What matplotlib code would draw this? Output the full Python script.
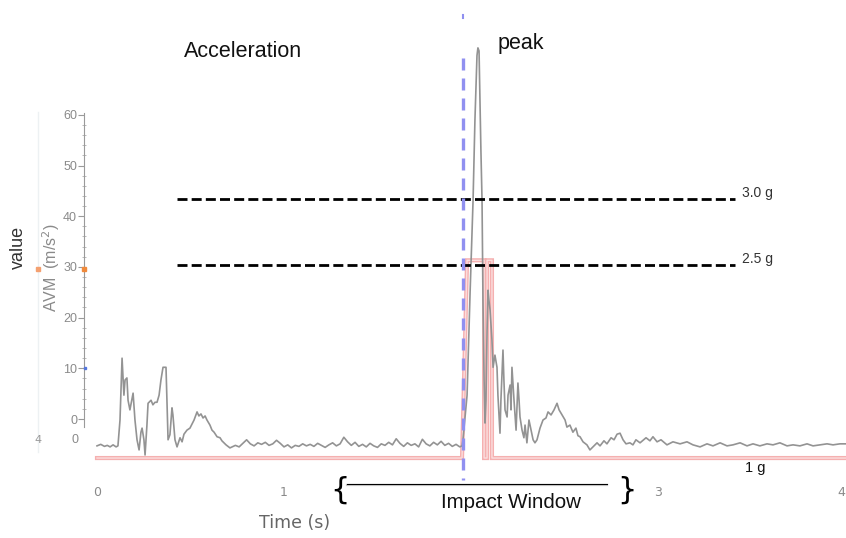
import numpy as np
import matplotlib
matplotlib.use('Agg')
import matplotlib.pyplot as plt
from matplotlib.lines import Line2D

# ── data: AVM trace (m/s^2) ──────────────────────────────────────────────────
time_s = [
    0.000, 0.020, 0.040, 0.055, 0.070, 0.086, 0.102, 0.112, 0.123, 0.134,
    0.144, 0.150, 0.160, 0.166, 0.176, 0.193, 0.203, 0.214, 0.225, 0.235,
    0.241, 0.251, 0.257, 0.267, 0.273, 0.289, 0.299, 0.310, 0.321, 0.332,
    0.342, 0.353, 0.369, 0.374, 0.380, 0.390, 0.401, 0.406, 0.417, 0.428,
    0.444, 0.455, 0.465, 0.481, 0.497, 0.508, 0.519, 0.535, 0.545, 0.556,
    0.567, 0.578, 0.588, 0.604, 0.615, 0.626, 0.642, 0.658, 0.668, 0.690,
    0.711,
    # quiet stretch
    0.74, 0.76, 0.78, 0.80, 0.82, 0.84, 0.86, 0.88, 0.90, 0.92,
    0.94, 0.96, 0.98, 1.00, 1.02, 1.04, 1.06, 1.08, 1.10, 1.12,
    1.14, 1.16, 1.18, 1.20, 1.22, 1.24, 1.26, 1.28, 1.30, 1.32,
    1.34, 1.36, 1.38, 1.40, 1.42, 1.44, 1.46, 1.48, 1.50, 1.52,
    1.54, 1.56, 1.58, 1.60, 1.62, 1.64, 1.66, 1.68, 1.70, 1.72,
    1.74, 1.76, 1.78, 1.80, 1.82, 1.84, 1.86, 1.88, 1.90, 1.92,
    1.94,
    # impact
    1.952, 1.957, 1.968, 1.979, 1.995, 2.011, 2.021, 2.032, 2.037, 2.043,
    2.048, 2.053, 2.059, 2.064, 2.070, 2.075, 2.080, 2.086, 2.091, 2.096,
    2.102, 2.112, 2.118, 2.128, 2.139, 2.144, 2.155, 2.160, 2.171, 2.176,
    2.182, 2.193, 2.198, 2.209, 2.214, 2.219, 2.230, 2.241, 2.251, 2.257,
    2.262, 2.273, 2.283, 2.289, 2.299, 2.310, 2.321, 2.332, 2.342, 2.353,
    2.369, 2.385, 2.401, 2.412, 2.428, 2.444, 2.460, 2.471, 2.487, 2.503,
    2.513, 2.529, 2.545, 2.561, 2.572, 2.583, 2.599, 2.620, 2.636, 2.652,
    2.674, 2.690, 2.711, 2.727, 2.749, 2.765, 2.781, 2.797, 2.813, 2.829,
    2.850, 2.866, 2.882, 2.904,
    # tail
    2.936, 2.957, 2.973, 2.995, 3.016, 3.048, 3.080, 3.118, 3.155, 3.187,
    3.225, 3.262, 3.294, 3.332, 3.369, 3.401, 3.439, 3.476, 3.508, 3.545,
    3.583, 3.615, 3.652, 3.690, 3.722, 3.759, 3.797, 3.829, 3.866, 3.904,
    3.936, 3.973, 4.005,
]
avm = [
    -5.3, -5.0, -5.4, -5.2, -5.5, -5.1, -5.5, -5.3, -0.2, 12.0,
    4.7, 7.7, 8.1, 3.7, 1.8, 5.1, -0.2, -4.1, -6.1, -2.6,
    -1.8, -4.1, -7.1, -1.2, 3.1, 3.7, 2.8, 3.3, 3.3, 4.7,
    7.7, 10.2, 10.2, 3.7, -4.1, -3.1, 2.2, 0.8, -4.1, -5.5,
    -3.7, -4.5, -3.0, -2.2, -1.8, -1.0, -0.2, 1.4, 0.6, 1.0,
    0.2, 0.6, -0.2, -1.2, -2.2, -2.6, -3.5, -3.7, -4.3, -5.1,
    -5.7,
    -5.2, -5.5, -4.8, -4.1, -4.9, -5.3, -4.7, -5.0, -4.6, -5.2,
    -4.9, -4.2, -4.8, -5.5, -5.1, -5.7, -5.2, -5.4, -4.9, -5.3,
    -5.0, -5.4, -4.8, -5.2, -5.6, -5.1, -4.7, -5.3, -4.9, -3.6,
    -4.5, -5.2, -4.6, -5.4, -5.0, -5.5, -4.8, -5.3, -5.6, -4.9,
    -5.2, -4.6, -5.1, -3.9, -4.8, -5.4, -4.7, -5.2, -4.9, -5.5,
    -4.0, -4.9, -5.3, -4.6, -5.1, -4.4, -5.2, -4.8, -5.4, -5.0,
    -5.5,
    -5.3, -4.1, 0.4, 4.7, 24.8, 43.1, 58.9, 71.7, 73.2, 72.6,
    62.8, 53.0, 43.1, 23.4, 7.7, -0.8, 3.7, 17.5, 25.4, 23.4,
    21.5, 15.6, 10.2, 12.6, 10.2, 4.7, -2.8, 3.7, 13.6, 7.7,
    1.8, 0.4, 4.7, 6.7, 1.8, 10.2, 3.7, -2.2, 7.1, 3.7,
    0.4, -2.2, -3.7, -1.2, -4.7, -0.2, -2.2, -4.1, -4.7, -4.1,
    -1.8, -0.2, 0.2, 1.4, 0.8, 1.8, 3.1, 1.8, 0.8, -0.2,
    -1.6, -1.2, -2.6, -1.8, -3.3, -3.5, -4.5, -5.1, -6.1, -5.5,
    -4.7, -5.3, -4.3, -4.9, -3.7, -4.1, -3.0, -2.8, -4.1, -4.9,
    -4.7, -5.1, -4.1, -4.7,
    -3.7, -4.3, -3.5, -4.5, -4.1, -5.1, -4.5, -4.9, -4.5, -5.1,
    -5.5, -4.9, -5.3, -4.7, -5.3, -5.1, -4.7, -5.3, -4.9, -5.3,
    -4.9, -5.1, -4.7, -5.3, -5.1, -5.3, -4.9, -5.3, -5.1, -4.9,
    -5.1, -4.9, -4.9,
]

# impact-window flag (pink step trace)
window_t = [0.0, 1.952, 1.979, 2.070, 2.070, 2.086, 2.086, 2.112, 2.112, 4.005]
window_v = [-7.7, -7.7, 31.3, 31.3, -7.7, -7.7, 31.3, 31.3, -7.7, -7.7]

# thresholds
thr_values = [43.3, 30.3]
thr_labels = ['3.0 g', '2.5 g']
thr_span = [0.428, 3.412]

impact_start = 1.957
x_ticks = [0, 1, 3, 4]
y_ticks = [0, 10, 20, 30, 40, 50, 60]

# ── figure ────────────────────────────────────────────────────────────────────
W, H = 846, 538
fig = plt.figure(figsize=(W / 100, H / 100), dpi=100)
ax = fig.add_axes([0, (H - 482) / H, 1, 482 / H])
ax.set_xlim(-97 / 187, (W - 97) / 187)
ax.set_ylim(-63 / 5.07, 419 / 5.07)

gray_txt = '#8a8a8a'
narrow = ['Liberation Sans Narrow', 'Liberation Sans']

# signal + window
ax.plot(window_t, window_v, color='#f5b0b0', lw=3.0, solid_joinstyle='miter', zorder=2)
ax.plot(window_t, window_v, color='#fbdede', lw=1.0, zorder=2)
ax.plot(time_s, avm, color='#939393', lw=1.2, zorder=3)

# threshold lines
for v, lab in zip(thr_values, thr_labels):
    ax.plot(thr_span, [v, v], color='black', lw=2.0, dashes=(3.6, 1.5), zorder=4)
    ax.text(thr_span[1] + 0.035, v + 1.3, lab, fontsize=10, color='#333333',
            family=narrow, va='center', ha='left')

# impact start marker
ax.plot([impact_start, impact_start], [71.3, -12.0], color='#9090f0', lw=2.4,
        dashes=(3.6, 2.4), zorder=5)
ax.plot([impact_start, impact_start], [79.6, 79.0], color='#9090f0', lw=1.5, zorder=5)

# y axis
for s in ['top', 'right', 'bottom']:
    ax.spines[s].set_visible(False)
ax.spines['left'].set_position(('data', -13 / 187))
ax.spines['left'].set_bounds(-1.6, 60.4)
ax.spines['left'].set_color('#9a9a9a')
ax.set_yticks(y_ticks)
ax.set_yticks(np.arange(0, 61, 2), minor=True)
ax.tick_params(axis='y', which='major', length=4, width=0.8, color='#9a9a9a', pad=1,
               labelsize=9, labelcolor=gray_txt)
ax.tick_params(axis='y', which='minor', length=2.5, width=0.6, color='#b0b0b0', direction='inout')
for lbl in ax.get_yticklabels():
    lbl.set_family(narrow)
ax.text(-13 / 187 - 0.03, -4.1, '0', fontsize=9, color=gray_txt, ha='right', va='center',
        family=narrow)
ax.plot([-13 / 187], [29.6], marker='s', ms=2.5, color='#f08a3c', clip_on=False, zorder=6)
ax.plot([-13 / 187 + 0.005], [10], marker='s', ms=1.5, color='#5577dd', clip_on=False, zorder=6)

# x axis
ax.set_xticks(x_ticks)
ax.set_xticklabels([str(x) for x in x_ticks])
ax.tick_params(axis='x', length=0, pad=3, labelsize=9, labelcolor=gray_txt)
ax.get_xticklabels()[-1].set_horizontalalignment('right')

# ghost axis on the far left
gx = (38 - 97) / 187
ax.plot([gx, gx], [60.5, -6.5], color='#edf1f3', lw=1.0, zorder=1)
ax.plot([gx], [29.6], marker='s', ms=2.5, color='#f4a070', zorder=2)
ax.text(gx, -4.1, '4', fontsize=8, color='#999999', ha='center', va='center')

# labels and notes
ax.text((243 - 97) / 187, 72.4, 'Acceleration', fontsize=15.5, color='#111111',
        family='Liberation Sans', ha='center', va='center')
ax.text((521 - 97) / 187, 74.0, 'peak', fontsize=15.5, color='#111111',
        family='Liberation Sans', ha='center', va='center')
ax.text((755 - 97) / 187, -9.7, '1 g', fontsize=10.5, color='#111111',
        family='Liberation Sans', ha='center', va='center')

fig.text(18 / W, 1 - 247 / H, 'value', rotation=90, fontsize=13, color='#333333',
         family='Liberation Sans', ha='center', va='center')
fig.text(51 / W, 1 - 268 / H, 'AVM  (m/s$^2$)', rotation=90, fontsize=11.5, color='#8a8a8a',
         family='Liberation Sans', ha='center', va='center')
fig.text(295 / W, 1 - 523 / H, 'Time (s)', fontsize=12.5, color='#666666',
         family='DejaVu Sans', ha='center', va='center')

# impact window bracket
fig.text(340 / W, 1 - 490 / H, '{', fontsize=22, color='black', ha='center', va='center')
fig.text(627 / W, 1 - 490 / H, '}', fontsize=22, color='black', ha='center', va='center')
fig.add_artist(Line2D([347 / W, 607 / W], [1 - 485 / H, 1 - 485 / H], color='#cccccc', lw=1.6))
fig.add_artist(Line2D([347 / W, 607 / W], [1 - 484 / H, 1 - 484 / H], color='black', lw=0.8))
fig.text(511 / W, 1 - 502 / H, 'Impact Window', fontsize=14.8, color='#111111',
         family='Liberation Sans', ha='center', va='center')

fig.savefig('out.png', dpi=100)
